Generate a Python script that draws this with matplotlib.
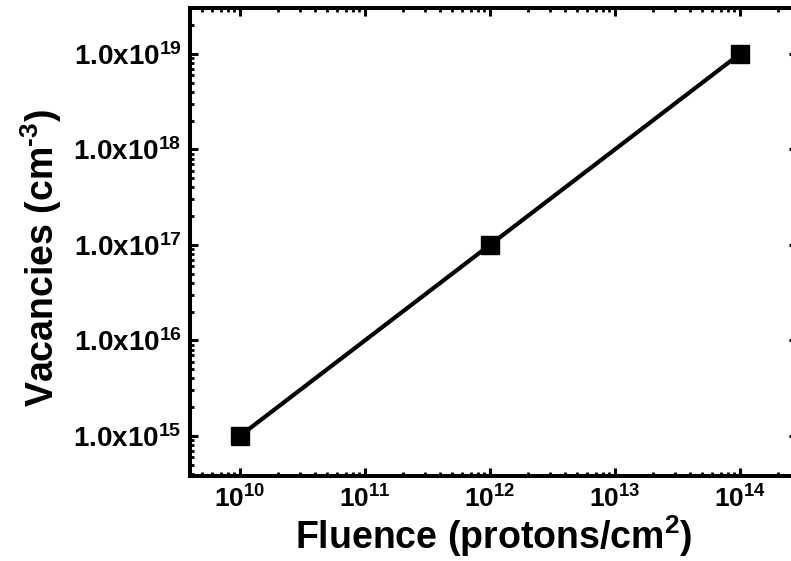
import numpy as np
import matplotlib
matplotlib.use('Agg')
import matplotlib.pyplot as plt
from matplotlib.ticker import LogLocator, FuncFormatter, NullFormatter

fluence = [1e10, 1e12, 1e14]
vacancies = [1e15, 1e17, 1e19]

plt.rcParams['font.family'] = ['Liberation Sans', 'DejaVu Sans']
plt.rcParams['font.weight'] = 'bold'
plt.rcParams['mathtext.fontset'] = 'custom'
plt.rcParams['mathtext.rm'] = 'Liberation Sans:bold'
plt.rcParams['mathtext.bf'] = 'Liberation Sans:bold'
plt.rcParams['mathtext.it'] = 'Liberation Sans:bold'
plt.rcParams['mathtext.default'] = 'rm'

W, H = 791, 561
fig = plt.figure(figsize=(W / 100, H / 100), dpi=100)
# axes box runs past the right edge of the picture, like the original crop
ax = fig.add_axes([190 / W, (H - 476) / H, (797 - 190) / W, (476 - 8) / H])

ax.plot(fluence, vacancies, color='black', lw=3, marker='s', ms=13.5,
        markerfacecolor='black', markeredgecolor='black')

ax.set_xscale('log')
ax.set_yscale('log')
ax.set_xlim(10 ** 9.6, 10 ** 14.456)
ax.set_ylim(10 ** 14.58, 10 ** 19.48)

ax.xaxis.set_major_locator(LogLocator(base=10, numticks=20))
ax.xaxis.set_minor_locator(LogLocator(base=10, subs=np.arange(2, 10), numticks=20))
ax.yaxis.set_major_locator(LogLocator(base=10, numticks=20))
ax.yaxis.set_minor_locator(LogLocator(base=10, subs=np.arange(2, 10), numticks=20))
ax.xaxis.set_minor_formatter(NullFormatter())
ax.yaxis.set_minor_formatter(NullFormatter())
ax.xaxis.set_major_formatter(FuncFormatter(lambda v, p: r'$10^{%d}$' % round(np.log10(v))))
ax.yaxis.set_major_formatter(FuncFormatter(lambda v, p: r'$1.0x10^{%d}$' % round(np.log10(v))))

ax.tick_params(which='both', direction='in', top=True, right=True)
ax.tick_params(axis='x', labelsize=19)
ax.tick_params(axis='y', labelsize=20)
ax.tick_params(which='major', length=6, width=2.2)
ax.tick_params(which='minor', length=3, width=2)
ax.tick_params(axis='x', which='major', pad=7)
ax.tick_params(axis='y', which='major', pad=6)
for sp in ax.spines.values():
    sp.set_linewidth(2.9)

ax.set_xlabel(r'Fluence (protons/cm$^{\mathbf{2}}$)', fontsize=27, fontweight='bold', labelpad=0)
ax.set_ylabel(r'Vacancies (cm$^{\text{-3}}$)', fontsize=27, fontweight='bold')
ax.yaxis.set_label_coords(-0.207, 0.466)

fig.savefig('out.png', dpi=100)
